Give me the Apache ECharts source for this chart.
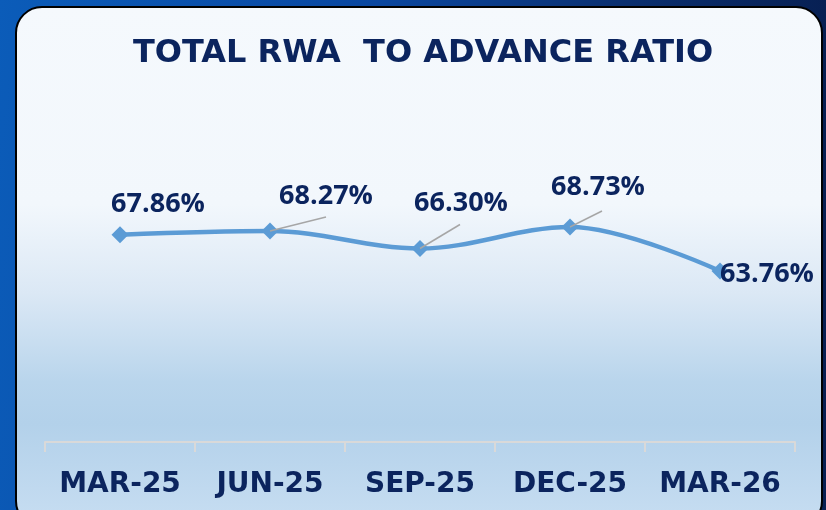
<!DOCTYPE html>
<html>
<head>
<meta charset="utf-8">
<script src="https://cdn.jsdelivr.net/npm/echarts@6/dist/echarts.min.js"></script>
<style>
html,body{margin:0;padding:0;width:826px;height:510px;overflow:hidden;}
#chart{width:826px;height:510px;}
</style>
</head>
<body>
<div id="chart"></div>
<script>
const titleText = 'TOTAL RWA  TO ADVANCE RATIO';
const categories = ['MAR-25', 'JUN-25', 'SEP-25', 'DEC-25', 'MAR-26'];
const ratioValues = [67.86, 68.27, 66.30, 68.73, 63.76];

// label placement (offset from point) and leader-line end offsets (null = no leader)
const labelDx = [38, 56, 41, 28, 47];
const labelDy = [-30, -35, -45, -40, 3];
const leaderEnd = [null, [56, -14], [40, -24], [32, -16], null];

const navy = '#0b245e';
const chart = echarts.init(document.getElementById('chart'), null, {renderer: 'canvas'});

const leaderData = [];
ratioValues.forEach((v, i) => { if (leaderEnd[i]) leaderData.push([i, v]); });

chart.setOption({
  animation: false,
  graphic: [
    {
      type: 'rect', z: -10, silent: true,
      shape: {x: 0, y: 0, width: 826, height: 510},
      style: {
        fill: new echarts.graphic.LinearGradient(0, 0, 1, 0.2, [
          {offset: 0, color: '#0b5cb9'},
          {offset: 0.45, color: '#0a47a0'},
          {offset: 0.75, color: '#0a2f6f'},
          {offset: 1, color: '#071f52'}
        ])
      }
    },
    {
      type: 'rect', z: -9, silent: true,
      shape: {x: 16, y: 7, width: 806, height: 520, r: 26},
      style: {
        fill: new echarts.graphic.LinearGradient(0, 0, 0, 1, [
          {offset: 0, color: '#f5f9fd'},
          {offset: 0.38, color: '#f2f7fc'},
          {offset: 0.55, color: '#dbe8f5'},
          {offset: 0.72, color: '#b9d5ec'},
          {offset: 0.8, color: '#b3d1ea'},
          {offset: 1, color: '#c8def2'}
        ]),
        stroke: '#000000',
        lineWidth: 2
      }
    }
  ],
  title: {
    text: titleText,
    left: 418,
    textAlign: 'center',
    top: 33,
    textStyle: {
      fontFamily: 'DejaVu Sans',
      fontWeight: 'bold',
      fontSize: 32,
      color: navy
    }
  },
  grid: {left: 45, right: 31, top: 100, bottom: 68, containLabel: false},
  xAxis: {
    type: 'category',
    data: categories,
    boundaryGap: true,
    axisLine: {show: true, lineStyle: {color: '#d9d9d9', width: 2}},
    axisTick: {show: true, interval: 0, length: 10, lineStyle: {color: '#d9d9d9', width: 2}},
    axisLabel: {
      interval: 0,
      margin: 29,
      fontFamily: 'DejaVu Sans',
      fontWeight: 'bold',
      fontSize: 28,
      color: navy
    },
    splitLine: {show: false}
  },
  yAxis: {
    type: 'value',
    min: 44.445,
    max: 83.075,
    show: false,
    splitLine: {show: false}
  },
  series: [{
    type: 'line',
    data: ratioValues,
    smooth: 0.35,
    symbol: 'diamond',
    symbolSize: 17,
    lineStyle: {color: '#5b9bd5', width: 4.5},
    itemStyle: {color: '#5b9bd5'},
    z: 3,
    label: {
      show: true,
      position: 'inside',
      formatter: p => p.value.toFixed(2) + '%',
      fontFamily: 'Open Sans',
      fontWeight: 'bold',
      fontSize: 27,
      color: navy
    },
    labelLine: {show: false},
    labelLayout: function (params) {
      const i = params.dataIndex;
      return {dx: labelDx[i], dy: labelDy[i]};
    }
  }, {
    type: 'custom',
    z: 4,
    silent: true,
    data: leaderData,
    renderItem: function (params, api) {
      const idx = api.value(0);
      const p = api.coord([idx, api.value(1)]);
      const e = leaderEnd[idx];
      return {
        type: 'line',
        shape: {x1: p[0], y1: p[1], x2: p[0] + e[0], y2: p[1] + e[1]},
        style: {stroke: '#a6a6a6', lineWidth: 1.5}
      };
    }
  }]
});
</script>
</body>
</html>
